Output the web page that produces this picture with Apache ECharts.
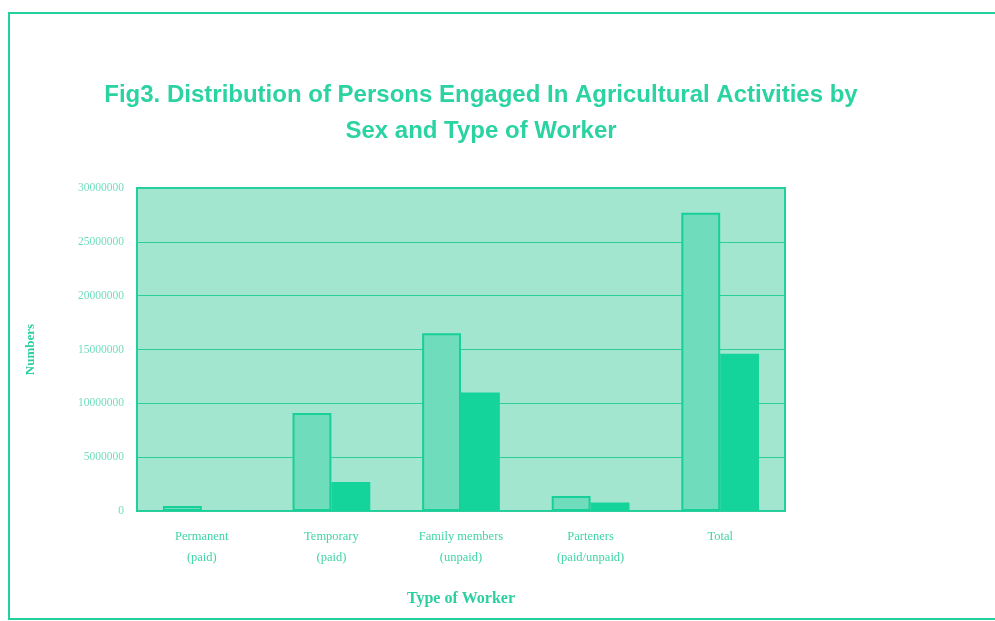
<!DOCTYPE html>
<html>
<head>
<meta charset="utf-8">
<script src="https://cdn.jsdelivr.net/npm/echarts@6/dist/echarts.min.js"></script>
<style>
html,body{margin:0;padding:0;background:#ffffff;}
#chart{width:995px;height:621px;}
</style>
</head>
<body>
<div id="chart"></div>
<script>
var categories = ['Permanent\n(paid)', 'Temporary\n(paid)', 'Family members\n(unpaid)', 'Parteners\n(paid/unpaid)', 'Total'];
var maleValues = [470000, 9100000, 16500000, 1400000, 27700000];
var femaleValues = [60000, 2700000, 11000000, 800000, 14600000];
var yTicks = [0, 5000000, 10000000, 15000000, 20000000, 25000000, 30000000];

var teal = '#22d19e';
var chart = echarts.init(document.getElementById('chart'));
chart.setOption({
  backgroundColor: '#ffffff',
  animation: false,
  title: {
    text: 'Fig3. Distribution of Persons Engaged In Agricultural Activities by\nSex and Type of Worker',
    left: 476, top: 72, textAlign: 'center',
    textStyle: {fontFamily: 'Liberation Sans, Arial, sans-serif', fontWeight: 'bold', fontSize: 24, color: '#2ad3a1', lineHeight: 36}
  },
  graphic: [{
    type: 'rect', shape: {x: 9, y: 13, width: 1000, height: 606},
    style: {fill: 'none', stroke: teal, lineWidth: 2}, silent: true
  }],
  grid: {left: 137, right: 210, top: 188, bottom: 110, show: true, backgroundColor: '#a2e6d0', borderColor: '#1fd09c', borderWidth: 2},
  xAxis: {
    type: 'category', data: categories,
    name: 'Type of Worker', nameLocation: 'middle', nameGap: 80,
    nameTextStyle: {fontFamily: 'Liberation Serif, Times New Roman, serif', fontWeight: 'bold', fontSize: 16, color: '#2ccf9f'},
    axisLine: {show: false}, axisTick: {show: false},
    axisLabel: {margin: 15, fontFamily: 'Liberation Serif, Times New Roman, serif', fontSize: 12.5, color: '#3fd4a7', lineHeight: 21}
  },
  yAxis: {
    type: 'value', min: 0, max: 30000000, interval: 5000000,
    name: 'Numbers', nameLocation: 'middle', nameGap: 100, nameRotate: 90,
    nameTextStyle: {fontFamily: 'Liberation Serif, Times New Roman, serif', fontWeight: 'bold', fontSize: 13, color: '#2ccf9f'},
    axisLine: {show: false}, axisTick: {show: false},
    splitLine: {show: true, lineStyle: {color: '#2ccf9c', width: 1.2}},
    axisLabel: {margin: 13, fontFamily: 'Liberation Serif, Times New Roman, serif', fontSize: 11.5, color: '#72ddbe',
      formatter: function (v) { return yTicks.indexOf(v) >= 0 ? String(v) : ''; }}
  },
  series: [
    {name: 'Male', type: 'bar', data: maleValues, barGap: '0%', barCategoryGap: '40%',
     itemStyle: {color: '#6fdcbb', borderColor: '#17cf98', borderWidth: 2}},
    {name: 'Female', type: 'bar', data: femaleValues,
     itemStyle: {color: '#14d39b'}}
  ]
});
</script>
</body>
</html>
